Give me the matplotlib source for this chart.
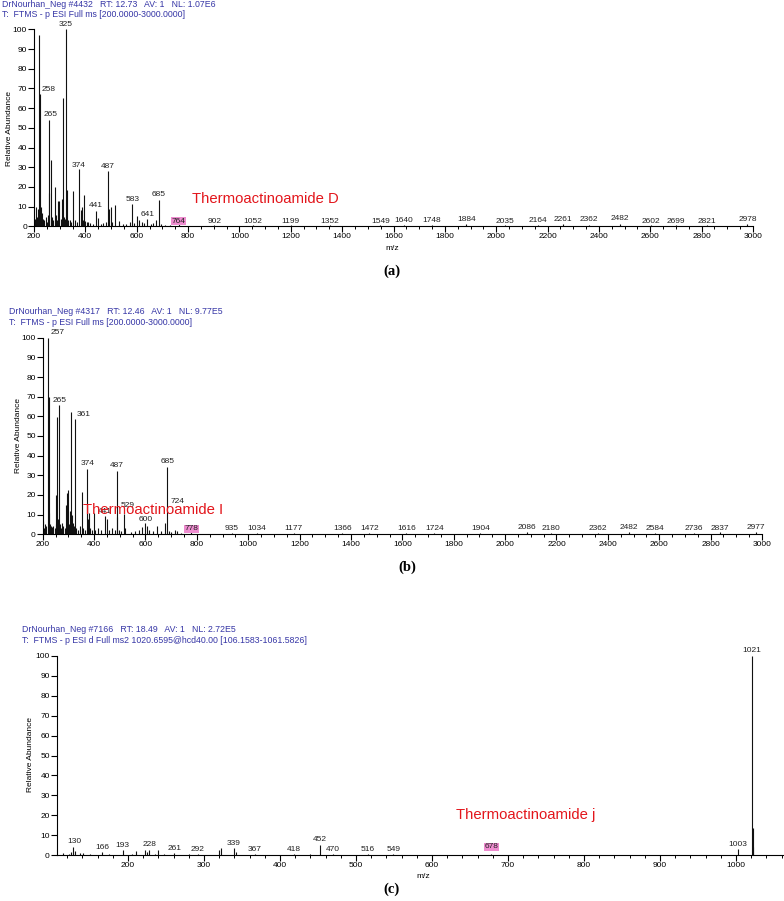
"""
Negative ESI mass spectra of thermoactinoamides D, I and j (three stacked panels).
"""

import matplotlib
matplotlib.use('Agg')
import matplotlib.pyplot as plt
from matplotlib.ticker import MultipleLocator

plt.rcParams['font.family'] = ['Liberation Sans', 'DejaVu Sans']
plt.rcParams['font.size'] = 6

# Data
# ----------------------------------------------------------------------------

# (a) Thermoactinoamide D, full scan
mz_a = [205, 208, 212, 215, 219.5, 222.5, 225, 228, 232, 236, 240, 245, 250, 254,
        258, 260, 265, 270, 275, 281, 286, 290, 294, 298, 304, 308, 311, 315, 320,
        325, 327, 332, 340, 345, 353, 360, 366, 374, 382, 387, 391, 396, 400, 405,
        412, 420, 430, 441, 450, 460, 470, 480, 487, 493, 498, 505, 515, 530, 545,
        560, 575, 583, 590, 600, 610, 620, 630, 641, 655, 665, 675, 685, 695, 710,
        730, 764, 902, 1052, 1199, 1352, 1549, 1640, 1748, 1884, 2035, 2164, 2261,
        2362, 2482, 2602, 2699, 2821, 2978]
ab_a = [4, 10, 5, 9, 97, 67, 3, 9.7, 7, 4, 3, 5, 2, 6,
        54, 17, 33.7, 5, 3, 19.8, 6, 3, 13, 13, 4, 14, 65, 5, 4,
        100, 18.5, 3, 3.5, 2, 18, 3, 2, 29, 8.5, 9.7, 3, 16, 2.5, 2,
        2, 1.5, 1, 7.8, 4.5, 1, 1.5, 2, 28, 9, 10, 2, 11, 2.5, 1,
        1, 2, 11.2, 1.5, 5.5, 3.5, 2, 1.5, 3.6, 1, 1.5, 3, 13.4, 1, 0.8,
        0.5, 1.2, 0.8, 0.8, 0.8, 0.8, 0.8, 0.8, 0.8, 1, 0.8, 0.8, 1,
        0.8, 1, 0.8, 0.8, 0.8, 1]
lab_a = ['325', '258', '265', '374', '487', '441', '583', '685', '641', '764',
         '902', '1052', '1199', '1352', '1549', '1640', '1748', '1884', '2035',
         '2164', '2261', '2362', '2482', '2602', '2699', '2821', '2978']
laby_a = [102.2, 69.6, 56.9, 31, 30.6, 10.5, 13.7, 16, 6.1, 2.7,
          2.4, 2.7, 2.7, 2.7, 2.7, 2.9, 2.9, 3.3, 2.7,
          2.9, 3.6, 3.3, 3.8, 2.7, 2.7, 2.7, 3.3]

# (b) Thermoactinoamide I, full scan
mz_b = [200, 205, 210, 214, 219.4, 223, 226, 230, 234, 238, 242, 246, 250, 253,
        256.8, 260, 264.6, 268, 272, 276, 280, 285, 290, 293, 297, 301, 305, 310,
        313, 318, 322, 325.4, 330, 336, 345, 352.6, 358, 365, 373.3, 377, 380,
        386, 392, 400, 405, 415, 425, 442, 451, 460, 470, 480, 487.4, 490, 496,
        505, 515.7, 522, 545, 560, 575, 588, 600, 606, 615, 630, 643, 660, 675,
        684, 690, 700, 715, 724, 740, 778, 935, 1034, 1177, 1366, 1472, 1616,
        1724, 1904, 2086, 2180, 2362, 2482, 2584, 2736, 2837, 2977]
ab_b = [6.8, 3, 5, 4, 100, 69.6, 11, 5, 4, 3.5, 4, 3, 5, 20,
        59.6, 8, 65.8, 5, 3, 6, 4, 3, 15, 21, 22.5, 5, 12, 62.4,
        10, 6, 4, 58.5, 3, 2, 4, 21.4, 3, 2, 33.2, 8, 11,
        3, 2, 11, 2, 3, 2, 9.5, 8, 2, 3, 2, 32.4, 9, 2,
        1.5, 10.5, 3, 1, 1.5, 2, 3.5, 5.5, 4, 2, 1.5, 4, 1.5, 5.5,
        34.4, 1.5, 1, 2, 1.8, 0.8, 1, 0.8, 0.8, 0.8, 0.8, 0.8, 0.8,
        0.8, 0.8, 1.2, 0.8, 0.8, 1.2, 0.8, 0.8, 1, 1]
lab_b = ['257', '265', '361', '374', '487', '441', '529', '600', '685', '724',
         '778', '935', '1034', '1177', '1366', '1472', '1616', '1724', '1904',
         '2086', '2180', '2362', '2482', '2584', '2736', '2837', '2977']
laby_b = [102.5, 68.3, 60.7, 36.1, 34.9, 11.5, 14.9, 7.6, 36.9, 16.6,
          2.7, 2.7, 2.7, 2.7, 2.7, 2.7, 2.7, 2.7, 2.7,
          3.5, 2.7, 2.7, 3.5, 2.7, 2.7, 3, 3.5]

# (c) Thermoactinoamide j, MS2 of 1020.6595
mz_c = [114, 122, 125, 128, 130, 137, 141, 150, 166, 175, 193, 205, 210, 222,
        225, 228, 236, 240, 248, 261, 280, 292, 320, 322, 339, 342, 367, 418,
        440, 452, 470, 516, 549, 678, 1003, 1021, 1022, 1023]
ab_c = [1, 0.8, 1.5, 4.3, 2, 1, 1, 0.5, 1.5, 0.5, 2.5, 0.8, 2, 2.5,
        1.8, 2.7, 0.8, 2.5, 0.5, 1, 0.5, 0.5, 2.5, 3.5, 3.5, 1.5, 0.7, 0.7,
        0.5, 5.2, 0.5, 0.5, 0.5, 0.5, 3, 100, 13.5, 4]
lab_c = ['130', '166', '193', '228', '261', '292', '339', '367', '418', '452',
         '470', '516', '549', '678', '1003', '1021']
laby_c = [6.8, 3.8, 4.8, 5.2, 3.3, 3, 5.7, 3, 3, 7.7,
          2.8, 2.8, 3, 4.3, 5.5, 102.5]

titles = [
    ('DrNourhan_Neg #4432   RT: 12.73   AV: 1   NL: 1.07E6',
     'T:  FTMS - p ESI Full ms [200.0000-3000.0000]'),
    ('DrNourhan_Neg #4317   RT: 12.46   AV: 1   NL: 9.77E5',
     'T:  FTMS - p ESI Full ms [200.0000-3000.0000]'),
    ('DrNourhan_Neg #7166   RT: 18.49   AV: 1   NL: 2.72E5',
     'T:  FTMS - p ESI d Full ms2 1020.6595@hcd40.00 [106.1583-1061.5826]'),
]
compounds = ['Thermoactinoamide D', 'Thermoactinoamide I', 'Thermoactinoamide j']
highlight = ['764', '778', '678']

# Plot
# ----------------------------------------------------------------------------

W, H = 784, 901
fig = plt.figure(figsize=(W / 100, H / 100), dpi=100)


def px(x, y):
    return x / W, 1 - y / H


def panel(rect, mz, ab, lab, laby, xlim, major, minor, hl):
    ax = fig.add_axes(rect)
    ax.vlines(mz, 0, ab, colors='#111111', lw=0.8)
    for t, y in zip(lab, laby):
        box = None
        if t == hl:
            box = dict(boxstyle='square,pad=0.05', fc='#ee8ccf', ec='none')
        ax.text(int(t), y, t, ha='center', va='center', fontsize=6,
                color='#222222', clip_on=False, bbox=box)
    ax.set_xlim(xlim)
    ax.set_ylim(0, 100)
    ax.xaxis.set_major_locator(MultipleLocator(major))
    ax.xaxis.set_minor_locator(MultipleLocator(minor))
    ax.yaxis.set_major_locator(MultipleLocator(10))
    ax.spines[['top', 'right']].set_visible(False)
    for s in ('left', 'bottom'):
        ax.spines[s].set_linewidth(0.8)
    ax.tick_params(which='major', direction='out', length=4, width=0.8,
                   labelsize=6, pad=1)
    ax.tick_params(which='minor', direction='out', length=2.5, width=0.7)
    return ax


ax_a = panel([34 / W, 1 - 226.4 / H, 719 / W, 197.1 / H], mz_a, ab_a, lab_a,
             laby_a, (200, 3000), 200, 50, highlight[0])
ax_b = panel([42.7 / W, 1 - 534.3 / H, 719.3 / W, 196.6 / H], mz_b, ab_b, lab_b,
             laby_b, (200, 3000), 200, 50, highlight[1])
ax_c = panel([56.7 / W, 1 - 855.3 / H, 726.1 / W, 199.6 / H], mz_c, ab_c, lab_c,
             laby_c, (106.1583, 1061.5826), 100, 20, highlight[2])
ax_c.set_xticks(range(200, 1001, 100))

blue = '#3636a6'
title_pos = [(2, 4.7, 14.7), (9.3, 311.7, 322.3), (21.7, 630, 640.3)]
for (l1, l2), (x, y1, y2) in zip(titles, title_pos):
    fig.text(*px(x, y1), l1, color=blue, fontsize=6.3, va='center')
    fig.text(*px(x, y2), l2, color=blue, fontsize=6.3, va='center')

for x, y in [(10, 128), (18.3, 435.7), (30.7, 755)]:
    fig.text(*px(x, y), 'Relative Abundance', rotation=90, ha='center',
             va='center', fontsize=6)

fig.text(*px(392, 248), 'm/z', ha='center', va='center', fontsize=6)
fig.text(*px(423, 876), 'm/z', ha='center', va='center', fontsize=6)

for name, (x, y) in zip(compounds, [(191.7, 199), (82.7, 510), (456, 815)]):
    fig.text(*px(x, y), name, color='#e3161c', fontsize=10.7, ha='left',
             va='center')

for lab, (x, y) in zip(['(a)', '(b)', '(c)'], [(392, 271), (407, 567), (392, 889)]):
    fig.text(*px(x, y), lab, family='Liberation Serif', weight='bold',
             fontsize=10.5, ha='center', va='center')

fig.savefig('out.png', dpi=100)
